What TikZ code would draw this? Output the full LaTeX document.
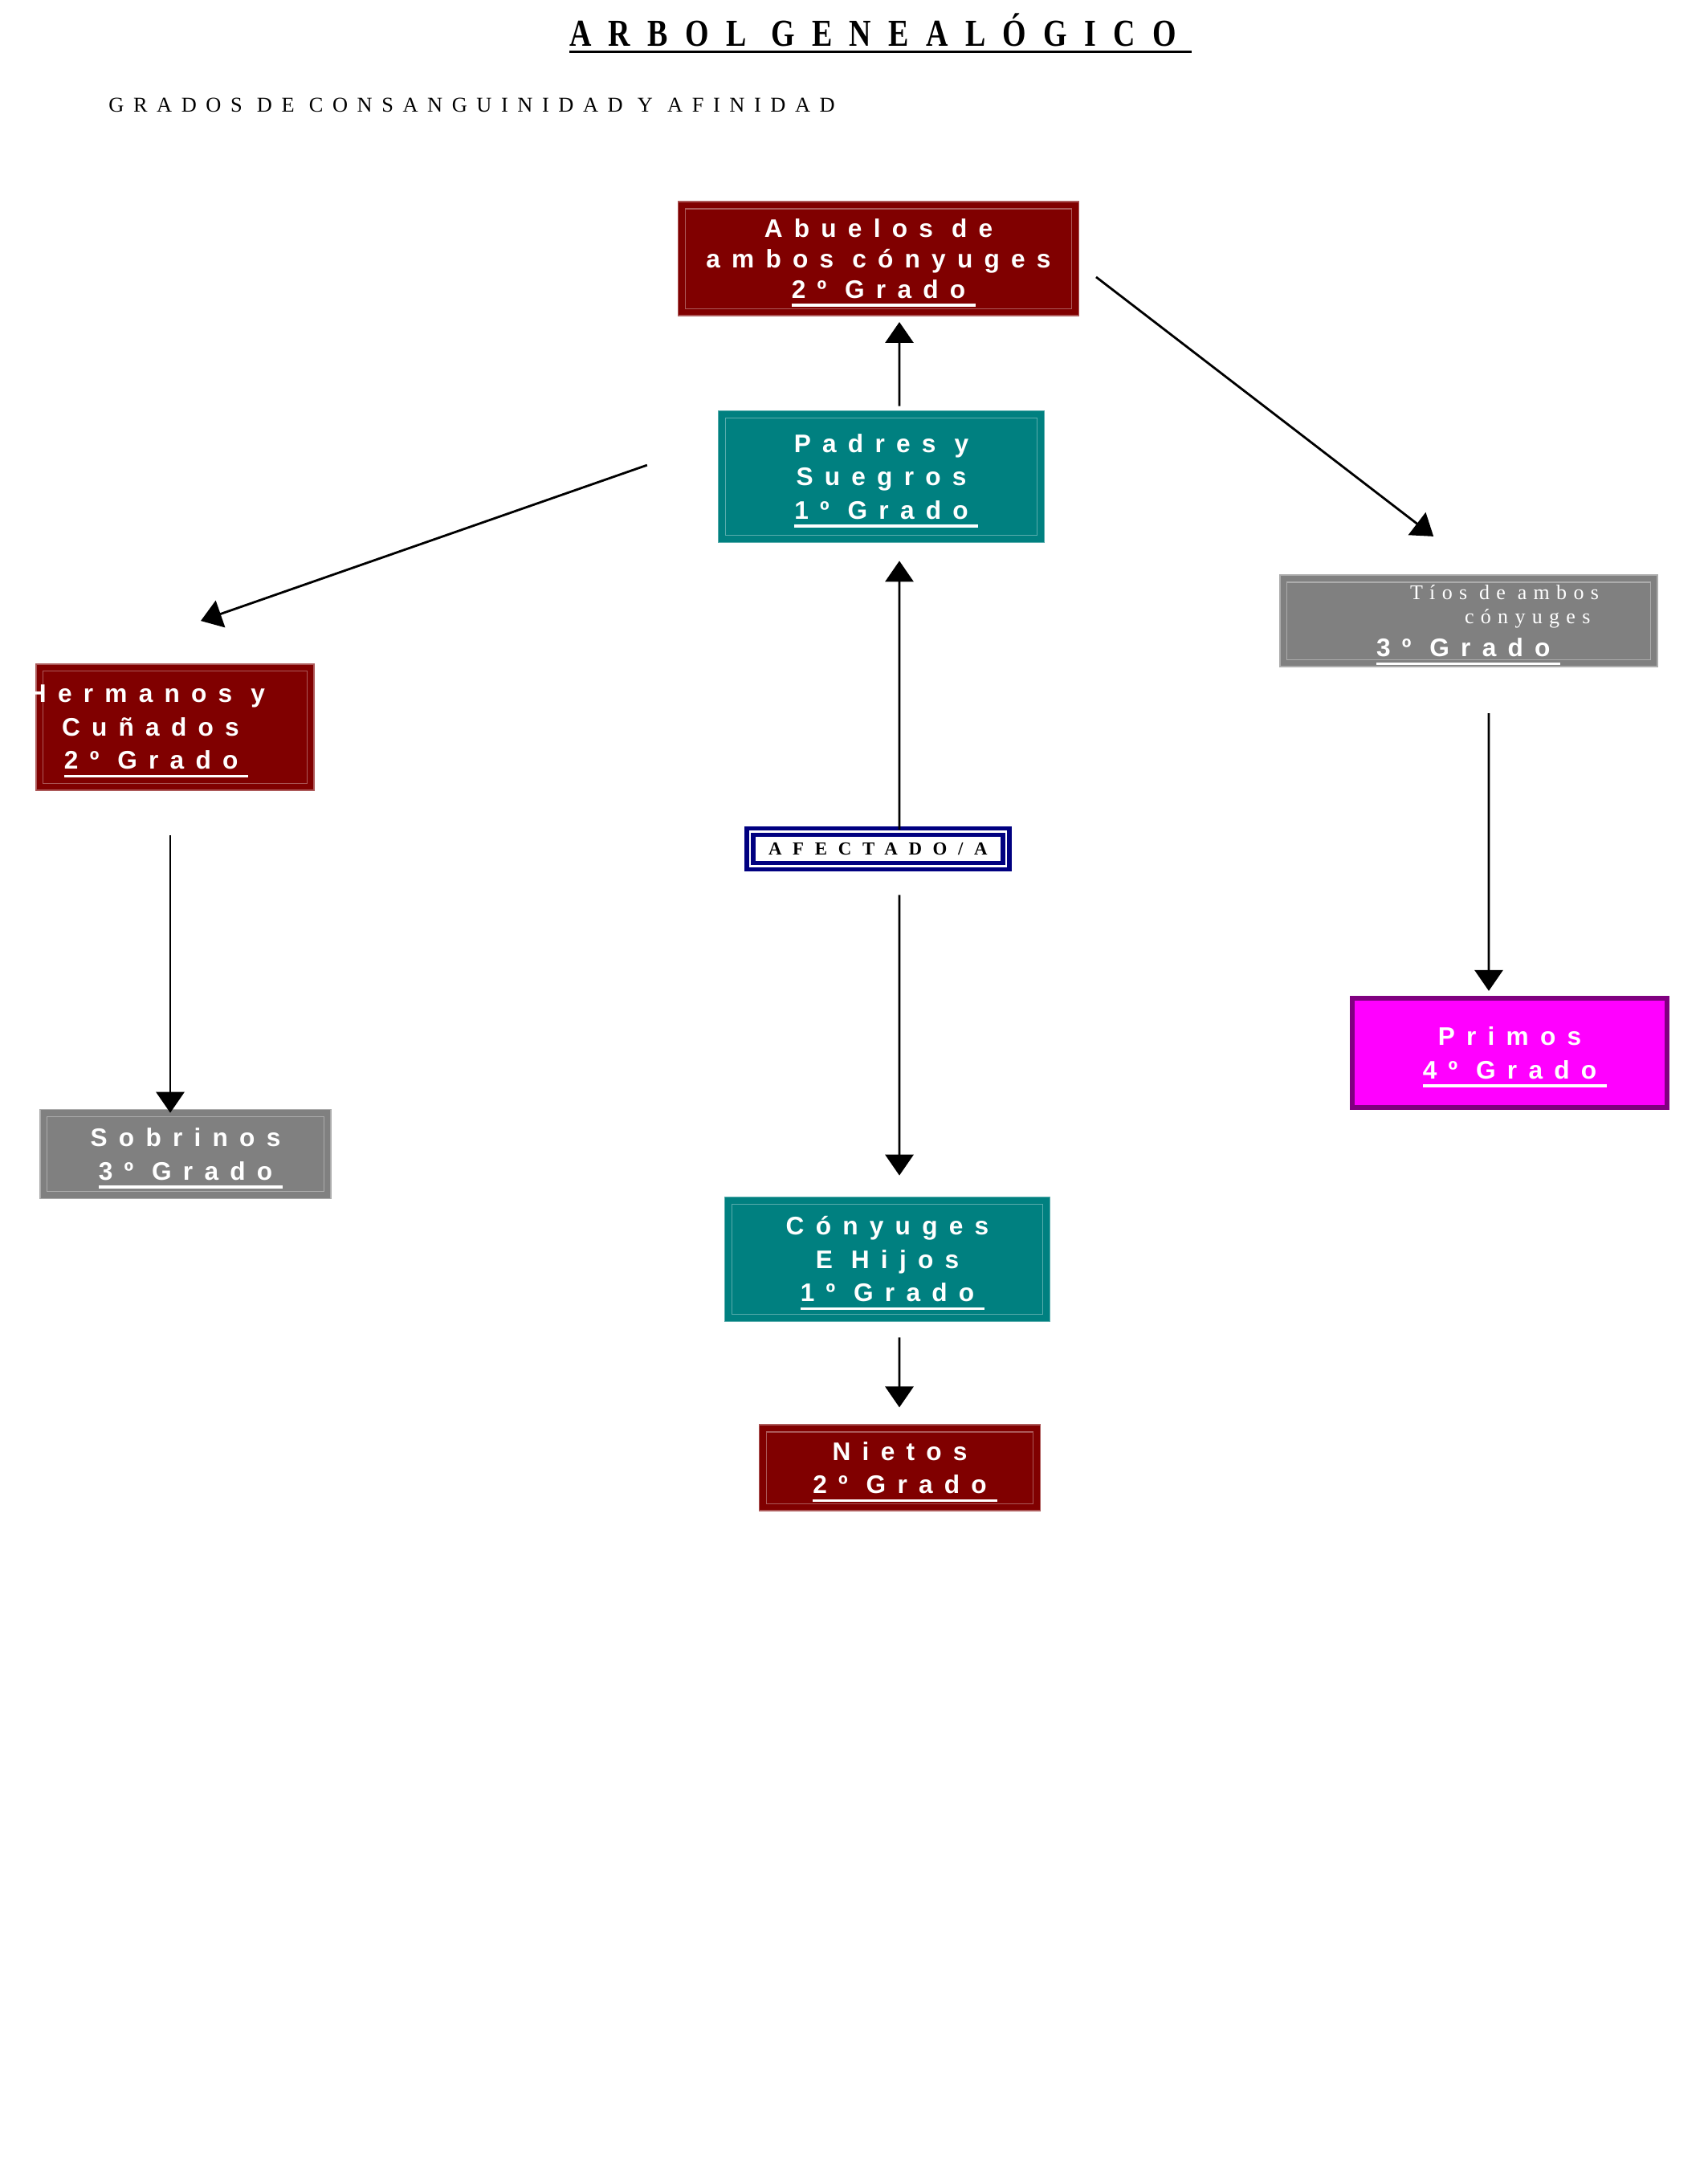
\documentclass[tikz,border=0pt]{standalone}
\usepackage{fontspec}
\setmainfont{Liberation Serif}
\newfontfamily\cajafuente[LetterSpace=45]{Liberation Sans}
\newfontfamily\tiosfuente[LetterSpace=32]{Liberation Serif}
\newfontfamily\titulofuente[LetterSpace=45,FakeStretch=0.8]{Liberation Serif}
\newfontfamily\subtitulofuente[LetterSpace=44]{Liberation Serif}
\newfontfamily\afectadofuente[LetterSpace=60]{Liberation Serif}
\usetikzlibrary{arrows.meta,positioning}

\definecolor{granate}{RGB}{128,0,0}
\definecolor{verdeazul}{RGB}{0,128,128}
\definecolor{gris}{RGB}{128,128,128}
\definecolor{fucsia}{RGB}{255,0,255}
\definecolor{morado}{RGB}{128,0,128}
\definecolor{marino}{RGB}{0,0,128}

\newcommand\subrayado[1]{\setbox0\hbox{#1}\rlap{\smash{\rule[-3pt]{\dimexpr\wd0+.4em\relax}{1pt}}}\box0}
\newcommand\subrayadotitulo[1]{\setbox0\hbox{#1}\rlap{\rule[-2.6pt]{\dimexpr\wd0+.4em\relax}{.9pt}}\box0}

\tikzset{cajabase/.style={rectangle,text=white,align=center,inner sep=0pt,
                          font=\cajafuente\bfseries\fontsize{9pt}{11.8pt}\selectfont},
         caja/.style={cajabase,fill=#1,draw=#1!65!white,line width=.5pt,
                      path picture={\draw[#1!65!white,line width=.35pt]
                        ([shift={(2.5pt,-2.5pt)}]path picture bounding box.north west) rectangle
                        ([shift={(-2.5pt,2.5pt)}]path picture bounding box.south east);}},
         primoscaja/.style={cajabase,fill=fucsia,draw=morado,line width=1.8pt},
         afectadocaja/.style={rectangle,draw=marino,fill=white,line width=1.5pt,double=white,
                              double distance=.8pt,inner sep=0pt,
                              font=\afectadofuente\bfseries\fontsize{6.5pt}{8pt}\selectfont},
         texto/.style={inner sep=0pt},
         flecha/.style={->,line width=.8pt}
}

\begin{document}
\begin{tikzpicture}[>={Triangle[length=7.4pt,width=10pt]}]
\useasboundingbox (0,0) rectangle (21.26,-27.02);

\node[texto,anchor=base west] (titulo) at (7.085,-0.573)
    {\titulofuente\bfseries\fontsize{13.5pt}{15pt}\selectfont\subrayadotitulo{ARBOL GENEALÓGICO}};
\node[texto,anchor=base west] (subtitulo) at (1.347,-1.397)
    {\subtitulofuente\fontsize{7.5pt}{9pt}\selectfont GRADOS DE CONSANGUINIDAD Y AFINIDAD};

\node[caja=granate,minimum width=4.99cm,minimum height=1.42cm,
      font=\cajafuente\bfseries\fontsize{9pt}{10.7pt}\selectfont] (abuelos) at (10.94,-3.221)
    {Abuelos de\\ambos cónyuges\\\subrayado{2º Grado}};
\node[caja=verdeazul,minimum width=4.06cm,minimum height=1.64cm] (padres) at (10.975,-5.935)
    {Padres y\\Suegros\\\subrayado{1º Grado}};
\node[caja=gris,minimum width=4.70cm,minimum height=1.14cm,
      font=\tiosfuente\mdseries\fontsize{7.4pt}{8.5pt}\selectfont] (tios) at (18.29,-7.733)
    {\makebox[4.70cm][l]{\hspace*{1.62cm}Tíos de ambos}\\
     \makebox[4.70cm][l]{\hspace*{2.30cm}cónyuges}\\[3.2pt]
     \makebox[4.70cm][l]{\hspace*{1.20cm}\cajafuente\bfseries\fontsize{9pt}{11pt}\selectfont\subrayado{3º Grado}}};
\node[caja=granate,minimum width=3.46cm,minimum height=1.57cm] (hermanos) at (2.18,-9.055)
    {\makebox[3.46cm][l]{\hspace*{-.1cm}Hermanos y}\\
     \makebox[3.46cm][l]{\hspace*{.32cm}Cuñados}\\
     \makebox[3.46cm][l]{\hspace*{.35cm}\subrayado{2º Grado}}};
\node[afectadocaja,minimum width=3.19cm,minimum height=.43cm] (afectado) at (10.934,-10.573)
    {AFECTADO/A};
\node[primoscaja,minimum width=3.92cm,minimum height=1.36cm] (primos) at (18.80,-13.11)
    {Primos\\\subrayado{4º Grado}};
\node[caja=gris,minimum width=3.62cm,minimum height=1.11cm] (sobrinos) at (2.31,-14.37)
    {Sobrinos\\\subrayado{3º Grado}};
\node[caja=verdeazul,minimum width=4.05cm,minimum height=1.55cm] (conyuges) at (11.05,-15.68)
    {Cónyuges\\E Hijos\\\subrayado{1º Grado}};
\node[caja=granate,minimum width=3.50cm,minimum height=1.07cm,below=1.27cm of conyuges,
      xshift=.156cm] (nietos)
    {Nietos\\\subrayado{2º Grado}};

\draw[flecha,shorten <=.05cm,shorten >=.07cm] ([xshift=.225cm]padres.north) -- ([xshift=.26cm]abuelos.south);
\draw[flecha,shorten >=.22cm] ([xshift=.266cm]afectado.north) -- ([xshift=.225cm]padres.south);
\draw[flecha,shorten <=.33cm,shorten >=.26cm] ([xshift=.266cm]afectado.south) -- ([xshift=.15cm]conyuges.north);
\draw[flecha,shorten <=.19cm,shorten >=.21cm] ([xshift=.15cm]conyuges.south) -- ([xshift=-.006cm]nietos.north);
\draw[flecha,shorten <=.93cm,shorten >=1.61cm] ([yshift=.45cm]padres.west) -- ([xshift=-1.2cm]hermanos.north);
\draw[flecha,shorten <=.26cm,shorten >=.78cm] ([yshift=-.07cm]abuelos.east) -- ([xshift=.18cm]tios.north);
\draw[flecha,shorten <=.55cm,shorten >=-.05cm] ([xshift=-.06cm]hermanos.south) -- ([xshift=-.19cm]sobrinos.north);
\draw[flecha,shorten <=.57cm,shorten >=.06cm] ([xshift=.25cm]tios.south) -- ([xshift=-.26cm]primos.north);
\end{tikzpicture}
\end{document}
